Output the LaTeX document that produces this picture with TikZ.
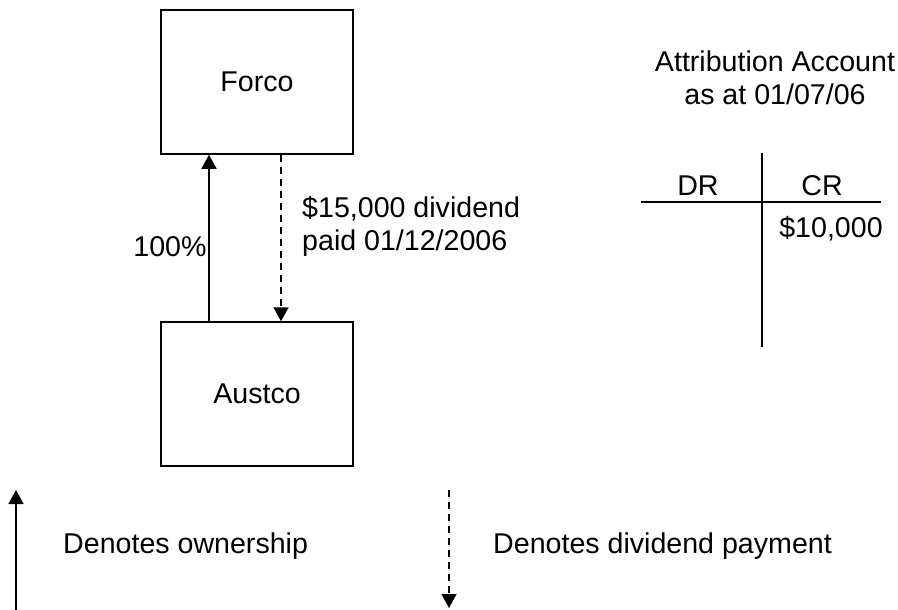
\documentclass[tikz,border=0pt]{standalone}
\usepackage{fontspec}
\setmainfont{Liberation Sans}
\usetikzlibrary{arrows.meta}
\begin{document}
\begin{tikzpicture}[x=1pt,y=-1pt,
  every node/.style={font=\fontsize{28.6}{33}\selectfont, inner sep=0pt},
  entity/.style={draw, line width=1.5pt, minimum width=192pt, minimum height=144pt},
  own/.style={line width=1.5pt, -{Triangle[width=15pt,length=14pt]}},
  div/.style={line width=1.5pt, dash pattern=on 7pt off 5pt, -{Triangle[width=15pt,length=14pt]}},
  rule/.style={line width=1.5pt}]
\useasboundingbox (0,0) rectangle (898,610);
\node[entity] (forco) at (257,82) {Forco};
\node[entity] (austco) at (257,394) {Austco};
\draw[own] ([xshift=48.75pt]austco.north west) -- ([xshift=48.75pt]forco.south west);
\draw[div] ([xshift=120.75pt]forco.south west) -- ([xshift=120.75pt]austco.north west);
\node (pct) at (170,247) {100\%};
\node[align=left, anchor=west] (divlabel) at (302,226) {\$15,000 dividend\\paid 01/12/2006};
\node[align=center] (title) at (775,78) {Attribution Account\\as at 01/07/06};
\coordinate (vt) at (762,153);
\coordinate (vb) at (762,347);
\coordinate (hl) at (641,202);
\coordinate (hr) at (881,202);
\draw[rule] (vt) -- (vb);
\draw[rule] (hl) -- (hr);
\node (dr) at (698,186) {DR};
\node (cr) at (822,186) {CR};
\node (amt) at (831,229) {\$10,000};
\coordinate (l1s) at (16,610);
\coordinate (l1t) at (16,490);
\draw[own] (l1s) -- (l1t);
\node[anchor=west] (ltext1) at (63,546) {Denotes ownership};
\coordinate (l2s) at (449,490);
\coordinate (l2t) at (449,608);
\draw[div] (l2s) -- (l2t);
\node[anchor=west] (ltext2) at (493,546) {Denotes dividend payment};
\end{tikzpicture}
\end{document}
